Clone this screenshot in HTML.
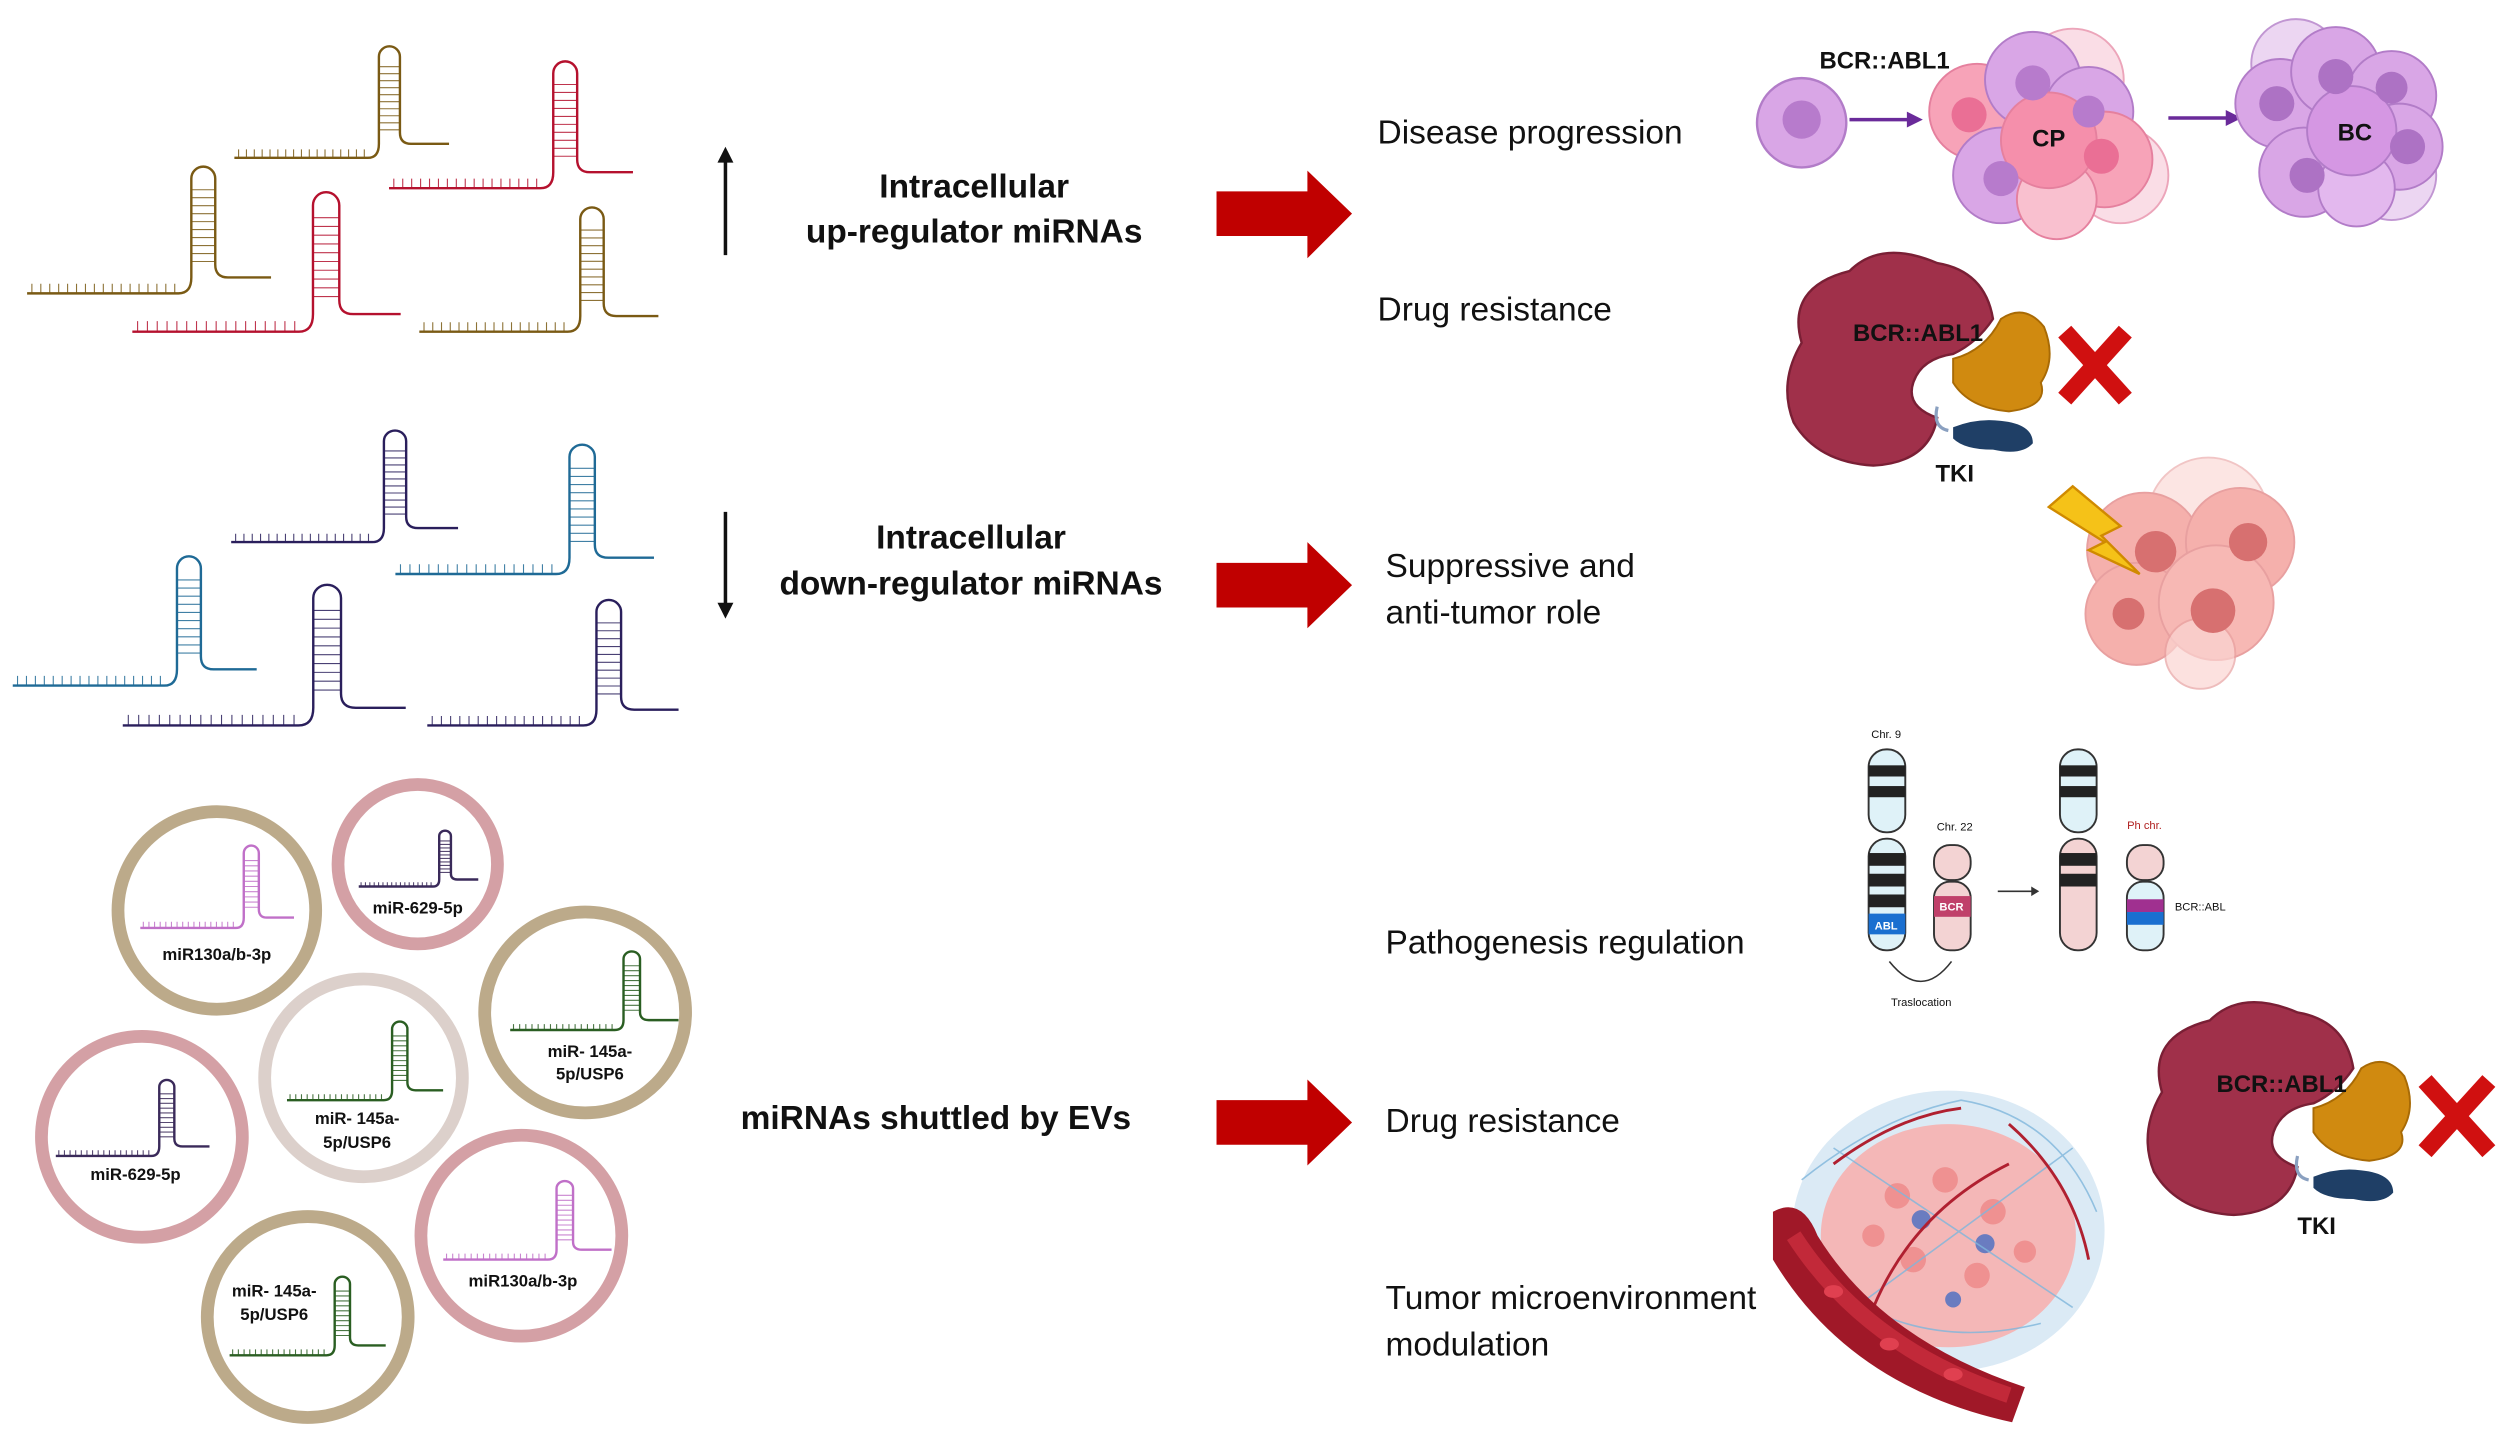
<!DOCTYPE html>
<html><head><meta charset="utf-8"><style>
html,body{margin:0;padding:0;background:#fff;}
svg{display:block;}
text{font-family:"Liberation Sans",Arial,sans-serif;}
</style></head><body>
<svg width="2500" height="1435" viewBox="0 0 1568 900" preserveAspectRatio="none" xmlns="http://www.w3.org/2000/svg">
<defs>
<symbol id="hp" overflow="visible">
<path d="M0,0 H95 Q103,0 103,-10 V-72 A7.5,7.5 0 0 1 118,-72 V-18 Q118,-10 126,-10 H153" fill="none" stroke="currentColor" stroke-width="2.4" vector-effect="non-scaling-stroke"/>
<path d="M3,0v-6M8.6,0v-6M14.2,0v-6M19.8,0v-6M25.4,0v-6M31,0v-6M36.6,0v-6M42.2,0v-6M47.8,0v-6M53.4,0v-6M59,0v-6M64.6,0v-6M70.2,0v-6M75.8,0v-6M81.4,0v-6M87,0v-6M92.6,0v-6M103,-20H118M103,-25H118M103,-30H118M103,-35H118M103,-40H118M103,-45H118M103,-50H118M103,-55H118M103,-60H118M103,-65H118" fill="none" stroke="currentColor" stroke-width="1.1" opacity="0.85" vector-effect="non-scaling-stroke"/>
</symbol>
</defs>
<rect width="1568" height="900" fill="#fff"/>

<!-- top hairpins -->
<use href="#hp" style="color:#7a5a14" transform="translate(147,99) scale(0.88,0.88)"/>
<use href="#hp" style="color:#b5112e" transform="translate(244,118) scale(1.0,1.0)"/>
<use href="#hp" style="color:#7a5a14" transform="translate(17,184) scale(1,1)"/>
<use href="#hp" style="color:#b5112e" transform="translate(83,208) scale(1.1,1.1)"/>
<use href="#hp" style="color:#7a5a14" transform="translate(263,208) scale(0.98,0.98)"/>

<!-- middle hairpins -->
<use href="#hp" style="color:#2a1f5c" transform="translate(145,340) scale(0.93,0.88)"/>
<use href="#hp" style="color:#1f6a96" transform="translate(248,360) scale(1.06,1.02)"/>
<use href="#hp" style="color:#1f6a96" transform="translate(8,430) scale(1.0,1.02)"/>
<use href="#hp" style="color:#2a1f5c" transform="translate(77,455) scale(1.16,1.11)"/>
<use href="#hp" style="color:#2a1f5c" transform="translate(268,455) scale(1.03,0.99)"/>

<!-- EVs -->
<g fill="#fff" stroke-width="8">
<circle cx="136" cy="571" r="62" stroke="#bcaa8a"/>
<circle cx="262" cy="542" r="50" stroke="#d4a0a5"/>
<circle cx="367" cy="635" r="63" stroke="#bcaa8a"/>
<circle cx="228" cy="676" r="62" stroke="#dcd0cb"/>
<circle cx="89" cy="713" r="63" stroke="#d4a0a5"/>
<circle cx="327" cy="775" r="63" stroke="#d4a0a5"/>
<circle cx="193" cy="826" r="63" stroke="#bcaa8a"/>
</g>
<use href="#hp" style="color:#c070c8" transform="translate(88,582) scale(0.63,0.65)"/>
<use href="#hp" style="color:#3a2a5a" transform="translate(225,556) scale(0.49,0.44)"/>
<use href="#hp" style="color:#2a5e22" transform="translate(320,646) scale(0.69,0.62)"/>
<use href="#hp" style="color:#2a5e22" transform="translate(180,690) scale(0.64,0.62)"/>
<use href="#hp" style="color:#3a2a5a" transform="translate(35,725) scale(0.63,0.6)"/>
<use href="#hp" style="color:#c070c8" transform="translate(278,790) scale(0.69,0.62)"/>
<use href="#hp" style="color:#2a5e22" transform="translate(144,850) scale(0.64,0.62)"/>
<g font-size="10.5" font-weight="bold" fill="#111" text-anchor="middle">
<text x="136" y="602">miR130a/b-3p</text>
<text x="262" y="573">miR-629-5p</text>
<text x="370" y="663">miR- 145a-</text><text x="370" y="677">5p/USP6</text>
<text x="224" y="705">miR- 145a-</text><text x="224" y="720">5p/USP6</text>
<text x="85" y="740">miR-629-5p</text>
<text x="328" y="807">miR130a/b-3p</text>
<text x="172" y="813">miR- 145a-</text><text x="172" y="828">5p/USP6</text>
</g>

<!-- vertical arrows -->
<g stroke="#111" stroke-width="2.2" fill="#111">
<line x1="455" y1="100" x2="455" y2="160"/>
<polygon points="450,102 455,92 460,102" stroke="none"/>
<line x1="455" y1="321" x2="455" y2="380"/>
<polygon points="450,378 455,388 460,378" stroke="none"/>
</g>
<g font-size="21" font-weight="bold" fill="#111" text-anchor="middle">
<text x="611" y="124">Intracellular</text>
<text x="611" y="152">up-regulator miRNAs</text>
<text x="609" y="344">Intracellular</text>
<text x="609" y="373">down-regulator miRNAs</text>
<text x="587" y="708">miRNAs shuttled by EVs</text>
</g>

<!-- red block arrows -->
<g fill="#c00000">
<polygon points="763,120 820,120 820,107 848,134 820,162 820,148 763,148"/>
<polygon points="763,353 820,353 820,340 848,367 820,394 820,381 763,381"/>
<polygon points="763,690 820,690 820,677 848,704 820,731 820,718 763,718"/>
</g>

<g font-size="21" fill="#111">
<text x="864" y="90">Disease progression</text>
<text x="864" y="201">Drug resistance</text>
<text x="869" y="362">Suppressive and</text>
<text x="869" y="391">anti-tumor role</text>
<text x="869" y="598">Pathogenesis regulation</text>
<text x="869" y="710">Drug resistance</text>
<text x="869" y="821">Tumor microenvironment</text>
<text x="869" y="850">modulation</text>
</g>

<!-- disease progression cells -->
<circle cx="1130" cy="77" r="28" fill="#d9a6e6" stroke="#b27cc8" stroke-width="1.5"/>
<circle cx="1130" cy="75" r="12" fill="#b77bcc"/>
<g stroke="#6a2a9a" stroke-width="2.2" fill="#6a2a9a">
<line x1="1160" y1="75" x2="1198" y2="75"/><polygon points="1196,70 1206,75 1196,80" stroke="none"/>
<line x1="1360" y1="74" x2="1398" y2="74"/><polygon points="1396,69 1406,74 1396,79" stroke="none"/>
</g>
<g stroke="#e5809e" stroke-width="1.2">
<circle cx="1300" cy="50" r="32" fill="#f9d0dc" opacity="0.7"/>
<circle cx="1330" cy="110" r="30" fill="#f9d0dc" opacity="0.7"/>
<circle cx="1240" cy="70" r="30" fill="#f7a3b8"/>
<circle cx="1275" cy="50" r="30" fill="#d9a6e6" stroke="#b27cc8"/>
<circle cx="1310" cy="70" r="28" fill="#d9a6e6" stroke="#b27cc8"/>
<circle cx="1320" cy="100" r="30" fill="#f7a3b8"/>
<circle cx="1255" cy="110" r="30" fill="#d9a6e6" stroke="#b27cc8"/>
<circle cx="1290" cy="125" r="25" fill="#f9c0cf"/>
<circle cx="1285" cy="88" r="30" fill="#f58fab"/>
</g>
<g fill="#b77bcc"><circle cx="1275" cy="52" r="11"/><circle cx="1310" cy="70" r="10"/><circle cx="1255" cy="112" r="11"/></g>
<g fill="#ea6f95"><circle cx="1235" cy="72" r="11"/><circle cx="1318" cy="98" r="11"/></g>
<text x="1285" y="92" font-size="15" font-weight="bold" text-anchor="middle" fill="#111">CP</text>
<g stroke="#b27cc8" stroke-width="1.2">
<circle cx="1440" cy="40" r="28" fill="#e8cdf0" opacity="0.8"/>
<circle cx="1500" cy="110" r="28" fill="#e8cdf0" opacity="0.8"/>
<circle cx="1430" cy="65" r="28" fill="#d9a6e6"/>
<circle cx="1465" cy="45" r="28" fill="#d9a6e6"/>
<circle cx="1500" cy="60" r="28" fill="#d9a6e6"/>
<circle cx="1505" cy="92" r="27" fill="#d9a6e6"/>
<circle cx="1445" cy="108" r="28" fill="#d9a6e6"/>
<circle cx="1478" cy="118" r="24" fill="#e3b8ee"/>
<circle cx="1475" cy="82" r="28" fill="#d597e3"/>
</g>
<g fill="#ad72c4"><circle cx="1428" cy="65" r="11"/><circle cx="1465" cy="48" r="11"/><circle cx="1500" cy="55" r="10"/><circle cx="1510" cy="92" r="11"/><circle cx="1447" cy="110" r="11"/></g>
<text x="1477" y="88" font-size="15" font-weight="bold" text-anchor="middle" fill="#111">BC</text>
<text x="1182" y="43" font-size="15" font-weight="bold" text-anchor="middle" fill="#111">BCR::ABL1</text>

<!-- drug resistance protein 1 -->
<g id="prot">
<path d="M1130,215 Q1120,180 1160,170 Q1180,150 1215,165 Q1245,170 1250,200 Q1240,215 1225,222 Q1205,225 1200,240 Q1195,255 1215,262 Q1210,290 1175,292 Q1140,290 1125,265 Q1115,240 1130,215Z" fill="#a0304a" stroke="#7a1f35" stroke-width="1.5"/>
<path d="M1225,225 Q1245,220 1255,200 Q1270,190 1282,205 Q1290,225 1280,240 Q1285,255 1260,258 Q1235,256 1225,240Z" fill="#d08a10" stroke="#a86a05" stroke-width="1.2"/>
<path d="M1225,268 Q1240,262 1255,264 Q1275,266 1275,278 Q1268,286 1250,282 Q1232,282 1225,275Z" fill="#1f3f66"/>
<path d="M1215,255 Q1212,268 1222,270" fill="none" stroke="#8aa0c0" stroke-width="2"/>
</g>
<text x="1203" y="214" font-size="15" font-weight="bold" text-anchor="middle" fill="#111">BCR::ABL1</text>
<text x="1226" y="302" font-size="15" font-weight="bold" text-anchor="middle" fill="#111">TKI</text>
<g stroke="#d01010" stroke-width="11" stroke-linecap="butt">
<line x1="1295" y1="208" x2="1333" y2="250"/><line x1="1333" y1="208" x2="1295" y2="250"/>
</g>
<use href="#prot" transform="translate(226,470)"/>
<text x="1431" y="685" font-size="15" font-weight="bold" text-anchor="middle" fill="#111">BCR::ABL1</text>
<text x="1453" y="774" font-size="15" font-weight="bold" text-anchor="middle" fill="#111">TKI</text>
<g stroke="#d01010" stroke-width="11">
<line x1="1521" y1="678" x2="1561" y2="722"/><line x1="1561" y1="678" x2="1521" y2="722"/>
</g>

<!-- suppressive cells -->
<g stroke="#e8a0a0" stroke-width="1.2">
<circle cx="1385" cy="325" r="38" fill="#fbd5d2" opacity="0.6"/>
<circle cx="1345" cy="345" r="36" fill="#f5b0ac"/>
<circle cx="1405" cy="340" r="34" fill="#f5b0ac"/>
<circle cx="1340" cy="385" r="32" fill="#f5b0ac"/>
<circle cx="1390" cy="378" r="36" fill="#f7b8b4"/>
<circle cx="1380" cy="410" r="22" fill="#fbd5d2" opacity="0.7"/>
</g>
<g fill="#d77070"><circle cx="1352" cy="346" r="13"/><circle cx="1410" cy="340" r="12"/><circle cx="1388" cy="383" r="14"/><circle cx="1335" cy="385" r="10"/></g>
<polygon points="1300,305 1330,330 1318,336 1342,360 1310,345 1320,340 1285,318" fill="#f5c218" stroke="#d08a00" stroke-width="1.5"/>

<!-- chromosomes -->
<g stroke="#333" stroke-width="1.2">
<rect x="1172" y="470" width="23" height="52" rx="11" fill="#dff2f8"/>
<rect x="1172" y="526" width="23" height="70" rx="11" fill="#dff2f8"/>
<rect x="1213" y="530" width="23" height="22" rx="10" fill="#f3d3d3"/>
<rect x="1213" y="553" width="23" height="43" rx="10" fill="#f3d3d3"/>
<rect x="1292" y="470" width="23" height="52" rx="11" fill="#dff2f8"/>
<rect x="1292" y="526" width="23" height="70" rx="11" fill="#f3d3d3"/>
<rect x="1334" y="530" width="23" height="22" rx="10" fill="#f3d3d3"/>
<rect x="1334" y="553" width="23" height="43" rx="10" fill="#dff2f8"/>
</g>
<g fill="#222">
<rect x="1172" y="480" width="23" height="7"/><rect x="1172" y="493" width="23" height="7"/>
<rect x="1172" y="535" width="23" height="8"/><rect x="1172" y="548" width="23" height="8"/><rect x="1172" y="561" width="23" height="8"/>
<rect x="1292" y="480" width="23" height="7"/><rect x="1292" y="493" width="23" height="7"/>
<rect x="1292" y="535" width="23" height="8"/><rect x="1292" y="548" width="23" height="8"/>
</g>
<rect x="1172" y="573" width="23" height="13" fill="#1a6fd0"/>
<rect x="1213" y="562" width="23" height="13" fill="#c0406a"/>
<rect x="1334" y="564" width="23" height="8" fill="#a03090"/>
<rect x="1334" y="572" width="23" height="8" fill="#1a6fd0"/>
<g font-family="Liberation Serif,serif" font-size="7" fill="#111" text-anchor="middle">
<text x="1183" y="463">Chr. 9</text>
<text x="1226" y="521">Chr. 22</text>
<text x="1345" y="520" fill="#b02020">Ph chr.</text>
<text x="1380" y="571">BCR::ABL</text>
<text x="1205" y="631">Traslocation</text>
</g>
<text x="1183" y="583" font-size="7" font-weight="bold" fill="#fff" text-anchor="middle">ABL</text>
<text x="1224" y="571" font-size="7" font-weight="bold" fill="#fff" text-anchor="middle">BCR</text>
<path d="M1253,559 H1276" stroke="#333" stroke-width="1"/><polygon points="1274,556 1279,559 1274,562" fill="#333"/>
<path d="M1185,603 Q1205,628 1224,603" fill="none" stroke="#333" stroke-width="1"/>

<!-- tumor microenvironment -->
<ellipse cx="1222" cy="772" rx="98" ry="88" fill="#dbeaf5"/>
<ellipse cx="1222" cy="775" rx="80" ry="70" fill="#f4b7b7"/>
<g fill="#e88" opacity="0.8">
<circle cx="1190" cy="750" r="8"/><circle cx="1220" cy="740" r="8"/><circle cx="1250" cy="760" r="8"/><circle cx="1200" cy="790" r="8"/><circle cx="1240" cy="800" r="8"/><circle cx="1270" cy="785" r="7"/><circle cx="1175" cy="775" r="7"/>
</g>
<g fill="#6a7cc0"><circle cx="1205" cy="765" r="6"/><circle cx="1245" cy="780" r="6"/><circle cx="1225" cy="815" r="5"/></g>
<g fill="none" stroke="#7fb6dc" stroke-width="1" opacity="0.8">
<path d="M1130,740 Q1180,700 1230,690 Q1290,700 1315,760"/><path d="M1140,800 Q1200,850 1280,830"/><path d="M1150,720 L1300,820"/><path d="M1300,720 L1150,830"/>
</g>
<g fill="none" stroke="#b02030" stroke-width="1.8">
<path d="M1150,730 Q1190,700 1230,695"/><path d="M1260,705 Q1300,740 1310,790"/><path d="M1175,820 Q1200,760 1260,730"/>
</g>
<path d="M1112,760 Q1130,750 1140,775 Q1180,840 1270,870 L1262,892 Q1160,870 1112,790Z" fill="#a01828"/>
<path d="M1125,775 Q1170,845 1260,875" fill="none" stroke="#d03040" stroke-width="10" opacity="0.7"/>
<g fill="#e04050"><ellipse cx="1150" cy="810" rx="6" ry="4"/><ellipse cx="1185" cy="843" rx="6" ry="4"/><ellipse cx="1225" cy="862" rx="6" ry="4"/></g>
</svg>
</body></html>
